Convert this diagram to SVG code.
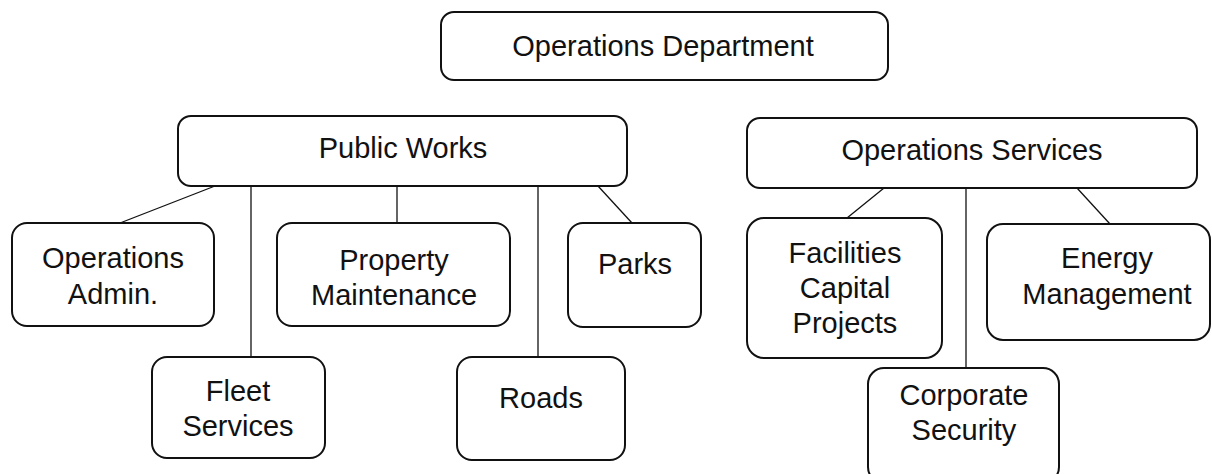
<svg xmlns="http://www.w3.org/2000/svg" width="1212" height="474" viewBox="0 0 1212 474">
<style>
.box{fill:#fff;stroke:#111;stroke-width:2}
.t{font-family:"Liberation Sans",Arial,sans-serif;font-size:29px;fill:#111;text-anchor:middle}
.c{stroke:#111;stroke-width:1.3;fill:none}
</style>
<rect width="1212" height="474" fill="#fff"/>
<g id="connectors">
<line class="c" x1="215" y1="186" x2="120" y2="223"/>
<line class="c" x1="251" y1="186" x2="251" y2="357"/>
<line class="c" x1="397" y1="186" x2="397" y2="223"/>
<line class="c" x1="538" y1="186" x2="538" y2="357"/>
<line class="c" x1="598" y1="186" x2="632" y2="223"/>
<line class="c" x1="884" y1="188" x2="847" y2="218"/>
<line class="c" x1="966" y1="188" x2="966" y2="368"/>
<line class="c" x1="1077" y1="188" x2="1110" y2="224"/>
</g>
<g id="ops-dept"><rect class="box" x="441" y="12" width="447" height="68" rx="13"/><text class="t" x="663" y="56">Operations Department</text></g>
<g id="public-works"><rect class="box" x="178" y="116" width="449" height="70" rx="13"/><text class="t" x="403" y="158">Public Works</text></g>
<g id="ops-services"><rect class="box" x="747" y="118" width="450" height="70" rx="13"/><text class="t" x="972" y="160">Operations Services</text></g>
<g id="ops-admin"><rect class="box" x="12" y="223" width="202" height="103" rx="15"/><text class="t" x="113" y="268">Operations</text><text class="t" x="113" y="304">Admin.</text></g>
<g id="fleet"><rect class="box" x="152" y="357" width="173" height="101" rx="15"/><text class="t" x="238" y="401">Fleet</text><text class="t" x="238" y="436">Services</text></g>
<g id="property"><rect class="box" x="277" y="223" width="233" height="103" rx="15"/><text class="t" x="394" y="270">Property</text><text class="t" x="394" y="305">Maintenance</text></g>
<g id="roads"><rect class="box" x="457" y="357" width="168" height="103" rx="15"/><text class="t" x="541" y="408">Roads</text></g>
<g id="parks"><rect class="box" x="568" y="223" width="133" height="104" rx="15"/><text class="t" x="635" y="274">Parks</text></g>
<g id="facilities"><rect class="box" x="747" y="218" width="195" height="140" rx="17"/><text class="t" x="845" y="263">Facilities</text><text class="t" x="845" y="298">Capital</text><text class="t" x="845" y="333">Projects</text></g>
<g id="energy"><rect class="box" x="987" y="224" width="223" height="116" rx="16"/><text class="t" x="1107" y="268">Energy</text><text class="t" x="1107" y="304">Management</text></g>
<g id="corporate"><rect class="box" x="868" y="368" width="191" height="115" rx="16"/><text class="t" x="964" y="405">Corporate</text><text class="t" x="964" y="440">Security</text></g>
</svg>
